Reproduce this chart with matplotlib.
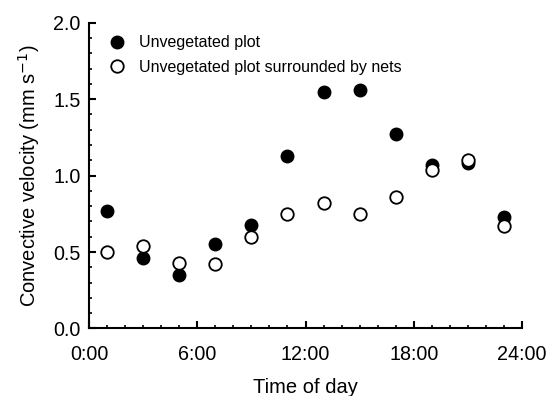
import numpy as np
import matplotlib
matplotlib.use('Agg')
import matplotlib.pyplot as plt
from matplotlib.ticker import MultipleLocator

plt.rcParams['font.family'] = ['Liberation Sans', 'DejaVu Sans']

# time of day in hours
hours = [1, 3, 5, 7, 9, 11, 13, 15, 17, 19, 21, 23]
unveg = [0.77, 0.46, 0.35, 0.55, 0.68, 1.13, 1.55, 1.56, 1.27, 1.07, 1.08, 0.73]
unveg_nets = [0.50, 0.54, 0.43, 0.42, 0.60, 0.75, 0.82, 0.75, 0.86, 1.04, 1.10, 0.67]
xtick_pos = [0, 6, 12, 18, 24]
xtick_lab = ['0:00', '6:00', '12:00', '18:00', '24:00']

fig = plt.figure(figsize=(5.56, 3.96), dpi=100)
ax = fig.add_axes([0.160, 0.1705, 0.779, 0.772])

ax.plot(hours, unveg, 'o', color='black', markersize=9, label='Unvegetated plot', clip_on=False)
ax.plot(hours, unveg_nets, 'o', markerfacecolor='white', markeredgecolor='black',
        markeredgewidth=1.3, markersize=9, label='Unvegetated plot surrounded by nets', clip_on=False)

ax.set_xlim(0, 24)
ax.set_ylim(0, 2.0)
ax.set_xticks(xtick_pos)
ax.set_xticklabels(xtick_lab)
ax.xaxis.set_minor_locator(MultipleLocator(1))
ax.yaxis.set_major_locator(MultipleLocator(0.5))
ax.yaxis.set_minor_locator(MultipleLocator(0.1))
ax.yaxis.set_major_formatter(matplotlib.ticker.FormatStrFormatter('%.1f'))

for s in ['top', 'right']:
    ax.spines[s].set_visible(False)
for s in ['left', 'bottom']:
    ax.spines[s].set_linewidth(1.5)

ax.tick_params(which='major', direction='in', length=5, width=1.5, labelsize=14.2)
ax.tick_params(axis='x', which='major', pad=12)
ax.tick_params(axis='y', which='major', pad=6)
ax.tick_params(which='minor', direction='in', length=2.5, width=1.2)

ax.set_xlabel('Time of day', fontsize=14.5, labelpad=10)
ax.set_ylabel('Convective velocity (mm s$^{-1}$)', fontsize=14.5, labelpad=8)

ax.legend(loc='upper left', frameon=False, fontsize=11.5, handletextpad=0.4,
          borderaxespad=0.2, labelspacing=0.6, bbox_to_anchor=(0.005, 0.99))

fig.savefig('out.png', dpi=100)
